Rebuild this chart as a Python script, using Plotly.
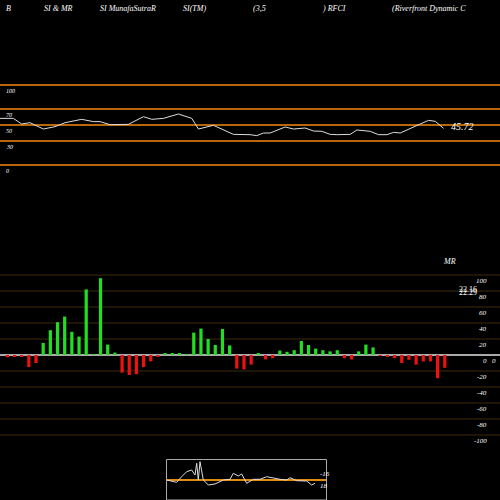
import plotly.graph_objects as go

# RSI line (top panel): x in bar-index units, values
rsi_x = [-1.02, 0.84, 2.0, 3.16, 5.02, 6.65, 8.05, 10.37, 12.0, 12.93, 14.33, 16.88, 18.98,
         20.14, 21.77, 23.86, 25.72, 26.65, 28.74, 31.53, 33.86, 34.79, 35.72, 36.65, 38.74,
         39.91, 41.53, 42.7, 43.86, 45.02, 45.95, 47.81, 48.74, 50.6, 51.77, 52.93, 53.86,
         54.79, 57.58, 58.74, 59.67, 60.84]
rsi_v = [58.3, 58.3, 51.25, 52.9, 45.0, 47.9, 52.9, 57.1, 54.2, 54.2, 50.4, 50.8, 60.4,
         57.1, 58.3, 63.75, 58.3, 45.0, 49.6, 38.3, 37.9, 36.7, 40.0, 40.0, 47.5,
         45.0, 46.25, 42.5, 42.1, 38.3, 37.9, 38.3, 43.75, 42.1, 37.9, 37.9, 40.8,
         40.0, 51.25, 55.8, 54.6, 45.8]
rsi_levels = [0, 30, 50, 70, 100]

# MRSI bars
mr_vals = [-3, -2.5, -2, -15, -10, 15, 31, 41, 48, 29, 23, 82, 0.5, 96, 13, 3,
           -22, -25, -24, -15, -8, -2, 2.5, 2, 2, 1, 28, 33, 20, 12.5, 32.5, 12,
           -17, -18, -12, 2.5, -5.5, -4, 5.5, 4, 6, 17.5, 12.5, 8, 6, 4.5, 6,
           -4, -5.5, 4.5, 13, 9.5, -1, -1.5, -4, -10, -6, -12, -8, -8, -29, -16]
mr_ticks = [100, 80, 60, 40, 20, 0, -20, -40, -60, -80, -100]

# small inset line (pixel-ish units)
ins_x = [166.7, 176.7, 181.7, 186.7, 191.7, 195, 196.7, 198.3, 200, 203.3, 208.3, 215, 223.3,
         230, 233.3, 238.3, 241.7, 246.7, 253.3, 260, 266.7, 273.3, 280, 286.7, 290, 296.7,
         306.7, 311.7, 315]
ins_y = [480, 482.3, 476.7, 471.7, 470, 475, 463.3, 480, 461.7, 480, 485, 484, 480,
         479.3, 473.3, 476, 474, 483.3, 479.3, 479.3, 476.7, 478.3, 479.3, 480, 477.7, 480.7,
         481, 485, 483.3]

bar_x = list(range(len(mr_vals)))
colors = ['#22dd22' if v >= 0 else '#ee1111' for v in mr_vals]

fig = go.Figure()
fig.add_trace(go.Bar(x=bar_x, y=mr_vals, marker_color=colors, marker_line_width=0,
                     width=0.45, xaxis='x', yaxis='y2'))
fig.add_trace(go.Scatter(x=rsi_x, y=rsi_v, mode='lines', line=dict(color='#dddddd', width=1),
                         xaxis='x', yaxis='y'))
fig.add_trace(go.Scatter(x=ins_x, y=[-v for v in ins_y], mode='lines',
                         line=dict(color='#dddddd', width=1), xaxis='x3', yaxis='y3'))

shapes = []
for lv in rsi_levels:
    shapes.append(dict(type='line', xref='paper', x0=0, x1=1, yref='y', y0=lv, y1=lv,
                       line=dict(color='#b8680a', width=2), layer='below'))
for t in mr_ticks:
    if t == 0:
        continue
    shapes.append(dict(type='line', xref='paper', x0=0, x1=1, yref='y2', y0=t, y1=t,
                       line=dict(color='#3d2a0e', width=1), layer='below'))
shapes.append(dict(type='line', xref='paper', x0=0, x1=1, yref='y2', y0=0, y1=0,
                   line=dict(color='#aaaaaa', width=2), layer='below'))
# inset box and orange line
shapes.append(dict(type='rect', xref='x3', yref='y3', x0=166.5, x1=326.5, y0=-500, y1=-459.5,
                   line=dict(color='#aaaaaa', width=1)))
shapes.append(dict(type='line', xref='x3', yref='y3', x0=166.5, x1=326.5, y0=-480, y1=-480,
                   line=dict(color='#e08a10', width=2), layer='below'))

ann = []
def txt(x, y, s, size=8, anchor='left'):
    ann.append(dict(x=x / 500, y=1 - y / 500, xref='paper', yref='paper', text=s,
                    showarrow=False, xanchor=anchor, yanchor='middle',
                    font=dict(family='Liberation Serif', size=size, color='white')))

for x, s in [(4, 'B'), (42, 'SI & MR'), (98, 'SI MunafaSutraR'), (181, 'SI(TM)'),
             (251, '(3,5'), (320, ') RFCI'), (390, '(Riverfront Dynamic C')]:
    txt(x, 8, '<i>%s</i>' % s)
for lv in rsi_levels:
    txt(4, 171 - 0.8 * lv, '<i>%d</i>' % lv, size=6)
txt(449, 126, '<i>45.72</i>', size=10)
for t in mr_ticks:
    txt(489, 361 - 0.8 * t, '<i>%d</i>' % t, size=7, anchor='right')
txt(498, 361, '<i>0</i>', size=7, anchor='right')
txt(441, 261, '<i>MR</i>', size=8)
txt(457, 289, '22.16', size=8)
txt(457, 292, '22.29', size=8)
txt(318, 474, '<i>-16</i>', size=7)
txt(318, 486, '<i>18</i>', size=7)

ax_off = dict(visible=False, showgrid=False, zeroline=False, fixedrange=True)
fig.update_layout(
    width=500, height=500, margin=dict(l=0, r=0, t=0, b=0),
    paper_bgcolor='black', plot_bgcolor='black', showlegend=False,
    xaxis=dict(range=[-1.02, 68.7], domain=[0, 1], **ax_off),
    yaxis=dict(range=[-418.75, 206.25], domain=[0, 1], **ax_off),
    yaxis2=dict(range=[-181.25, 443.75], overlaying='y', **ax_off),
    xaxis3=dict(range=[166, 327], domain=[166 / 500, 327 / 500], anchor='y3', **ax_off),
    yaxis3=dict(range=[-500, -459], domain=[0, 41 / 500], anchor='x3', **ax_off),
    shapes=shapes, annotations=ann,
)
fig.write_html("out.html", config={'displayModeBar': False},
               post_script="document.body.style.margin='0';document.body.style.background='black';")
